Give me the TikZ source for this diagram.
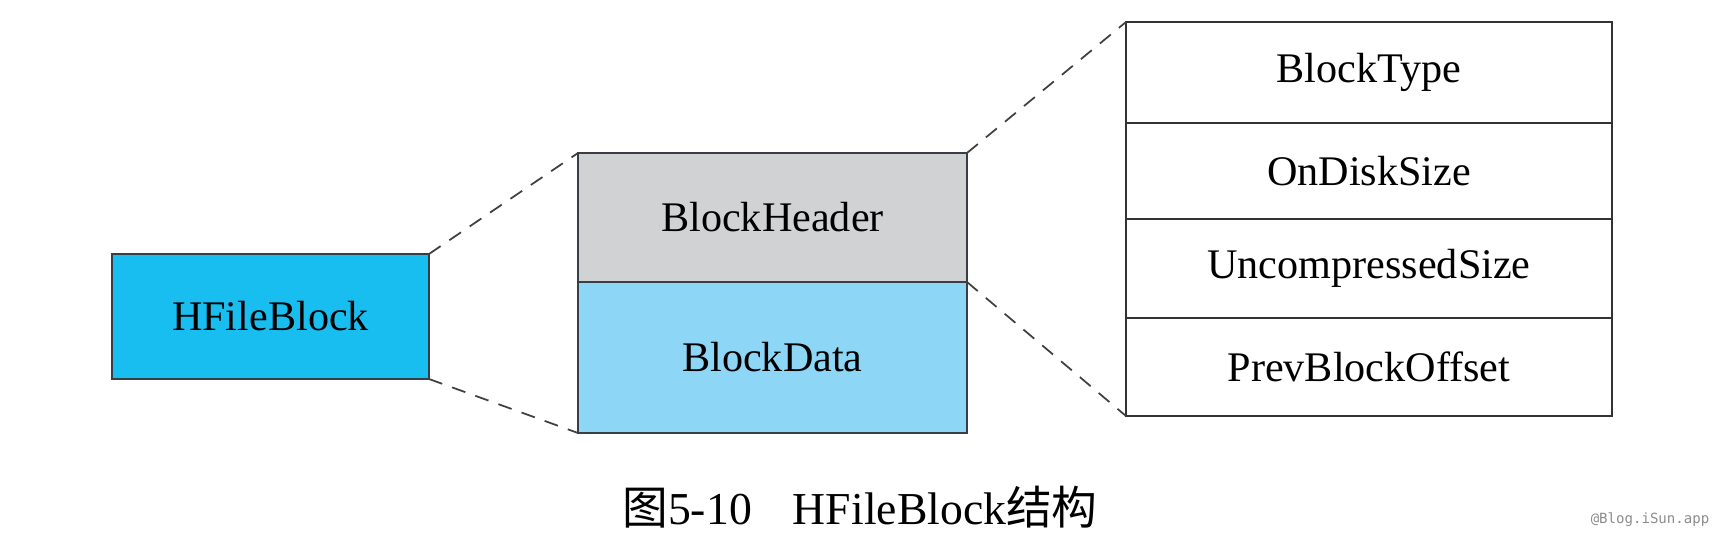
\documentclass[tikz,border=0pt]{standalone}
\usepackage{fontspec}
\setmainfont{Liberation Serif}
\newfontfamily\cjkfont{Noto Sans CJK SC}
\newfontfamily\markfont{DejaVu Sans Mono}
\usetikzlibrary{positioning}
\definecolor{hfbblue}{RGB}{24,190,240}
\definecolor{hdrgray}{RGB}{209,210,212}
\definecolor{datablue}{RGB}{142,214,246}
\definecolor{edgegray}{RGB}{55,62,70}
\tikzset{
    block/.style={rectangle, draw=edgegray, line width=0.7pt, inner sep=0pt, outer sep=0pt, font=\fontsize{12}{14}\selectfont},
    field/.style={rectangle, draw=black!80, line width=0.6pt, inner sep=0pt, outer sep=0pt, minimum width=4.86cm, font=\fontsize{12}{14}\selectfont},
    link/.style={draw=black!75, dashed, line width=0.5pt, dash pattern=on 4pt off 3pt}
}
\begin{document}
\begin{tikzpicture}
    \useasboundingbox (0,0) rectangle (17.28,5.54);
    % Nodes
    \node[block, fill=hfbblue, minimum width=3.17cm, minimum height=1.25cm] (hfb) at (2.705,2.375) {HFileBlock};
    \node[block, fill=hdrgray, minimum width=3.89cm, minimum height=1.29cm] (hdr) at (7.725,3.365) {BlockHeader};
    \node[block, fill=datablue, minimum width=3.89cm, minimum height=1.51cm] (data) at (7.725,1.965) {BlockData};
    \node[field, minimum height=1.01cm] (type) at (13.69,4.815) {BlockType};
    \node[field, minimum height=0.96cm] (disk) at (13.69,3.83) {OnDiskSize};
    \node[field, minimum height=0.99cm] (uncomp) at (13.69,2.855) {UncompressedSize};
    \node[field, minimum height=0.98cm] (prev) at (13.69,1.87) {PrevBlockOffset};
    \node (caption) at (8.60,0.47) {\fontsize{13}{15}\selectfont{\cjkfont 图}5-10\hspace{0.9em}HFileBlock{\cjkfont 结构}};
    \node[text=black!45] (mark) at (16.5,0.34) {\markfont\fontsize{4}{5}\selectfont @Blog.iSun.app};

    % edges
    \draw[link] (hfb.north east) -- (hdr.north west);
    \draw[link] (hfb.south east) -- (data.south west);
    \draw[link] (hdr.north east) -- (type.north west);
    \draw[link] (data.north east) -- (prev.south west);
\end{tikzpicture}
\end{document}
